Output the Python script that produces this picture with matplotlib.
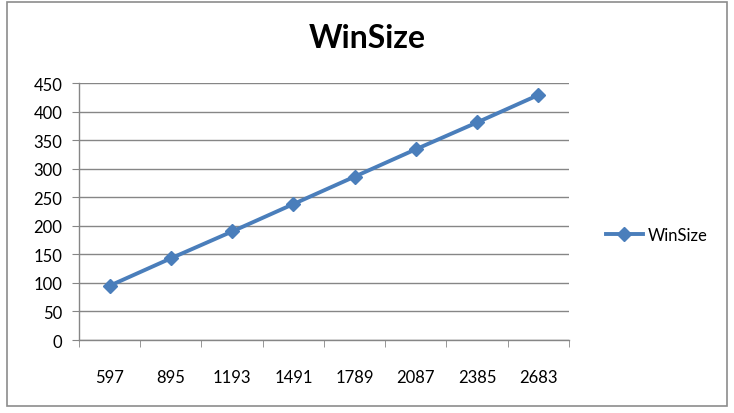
import matplotlib.pyplot as plt
from matplotlib.patches import Rectangle

# data
categories = ["597", "895", "1193", "1491", "1789", "2087", "2385", "2683"]
winsize = [95, 143, 190, 238, 286, 334, 381, 429]
y_ticks = [0, 50, 100, 150, 200, 250, 300, 350, 400, 450]

plt.rcParams['font.family'] = ['Lato', 'DejaVu Sans']

fig = plt.figure(figsize=(7.34, 4.14), dpi=100)
ax = fig.add_axes([0.1076, 0.1763, 0.6676, 0.6208])

# outer chart border
fig.patches.append(Rectangle((0.0095, 0.017), 0.981, 0.976, transform=fig.transFigure,
                             fill=False, edgecolor="#8c8c8c", linewidth=1.2))

x = list(range(len(categories)))
ax.plot(x, winsize, color="#4a7ebb", linewidth=2.8, marker="D", markersize=7,
        label="WinSize")

ax.set_xlim(-0.5, len(categories) - 0.5)
ax.set_ylim(0, 450)
ax.set_yticks(y_ticks)
ax.set_xticks(x)
ax.set_xticklabels(categories)
ax.tick_params(axis="x", length=0, labelsize=12, pad=21)
ax.tick_params(axis="y", length=5, color="#868686", labelsize=12, pad=7)

# tick marks between categories
ax.set_xticks([i - 0.5 for i in range(len(categories) + 1)], minor=True)
ax.tick_params(axis="x", which="minor", length=5, color="#868686", direction="out")

ax.grid(axis="y", color="#868686", linewidth=1.0)
ax.set_axisbelow(True)
for side in ["top", "right"]:
    ax.spines[side].set_visible(False)
for side in ["left", "bottom"]:
    ax.spines[side].set_color("#868686")
    ax.spines[side].set_linewidth(1.0)

fig.text(0.5, 0.908, "WinSize", ha="center", va="center", fontsize=23, fontweight="bold")

fig.legend(loc="center left", bbox_to_anchor=(0.805, 0.43), frameon=False, fontsize=12,
           handlelength=2.2, handletextpad=0.3)

fig.savefig("out.png", dpi=100)
